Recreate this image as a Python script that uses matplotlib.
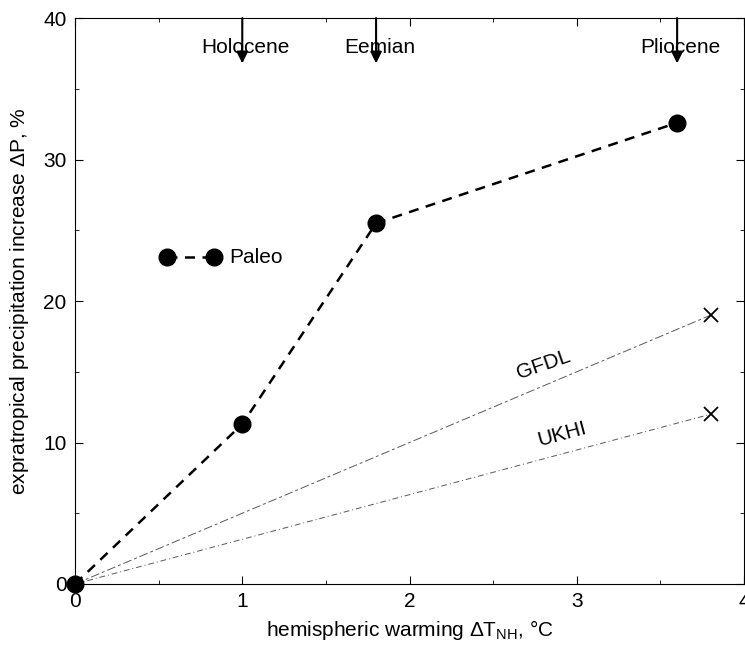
import matplotlib
matplotlib.use('Agg')
import matplotlib.pyplot as plt

plt.rcParams['font.family'] = ['Liberation Sans', 'DejaVu Sans']
plt.rcParams['mathtext.fontset'] = 'custom'
plt.rcParams['mathtext.rm'] = 'Liberation Sans'

# paleo data
paleo_x = [0, 1, 1.8, 3.6]
paleo_y = [0, 11.3, 25.5, 32.6]
periods = ['Holocene', 'Eemian', 'Pliocene']
period_x = [1, 1.8, 3.6]

# model runs (straight from origin)
gfdl_x = [0, 3.8]
gfdl_y = [0, 19]
ukhi_x = [0, 3.8]
ukhi_y = [0, 12]

fs = 15

fig = plt.figure(figsize=(7.45, 6.46), dpi=100)
ax = fig.add_axes([0.1007, 0.096, 0.898, 0.876])

ax.plot(gfdl_x, gfdl_y, color='0.35', lw=0.7, ls=(0, (9, 3, 3, 3)))
ax.plot(ukhi_x, ukhi_y, color='0.35', lw=0.7, ls=(0, (6, 3, 1, 3)))
ax.plot(gfdl_x[-1], gfdl_y[-1], 'kx', ms=10, mew=1.3)
ax.plot(ukhi_x[-1], ukhi_y[-1], 'kx', ms=10, mew=1.3)
ax.plot(paleo_x, paleo_y, 'k--', lw=1.8, dashes=(4, 3), marker='o', ms=12,
        clip_on=False, zorder=5)

ax.text(2.80, 15.5, 'GFDL', rotation=19, ha='center', va='center', fontsize=fs)
ax.text(2.91, 10.6, 'UKHI', rotation=15, ha='center', va='center', fontsize=fs)

# legend drawn by hand
ax.plot([0.55, 0.83], [23.1, 23.1], 'k--', lw=1.8, dashes=(4, 3), marker='o', ms=12)
ax.text(0.92, 23.1, 'Paleo', va='center', fontsize=fs)

for name, px in zip(periods, period_x):
    ax.annotate('', xy=(px, 36.8), xytext=(px, 40),
                arrowprops=dict(arrowstyle='-|>', color='k', lw=1.5,
                                mutation_scale=17, shrinkA=0, shrinkB=0))
    ax.text(px + 0.02, 37.9, name, ha='center', va='center', fontsize=fs)

ax.set_xlim(0, 4)
ax.set_ylim(0, 40)
ax.set_xticks([0, 1, 2, 3, 4])
ax.set_yticks([0, 10, 20, 30, 40])
ax.set_xticks([0.5, 1.5, 2.5, 3.5], minor=True)
ax.set_yticks([5, 15, 25, 35], minor=True)
ax.tick_params(which='both', direction='in', top=True, right=True, labelsize=fs)
ax.tick_params(which='major', length=6, pad=6)
ax.tick_params(which='minor', length=3)
ax.set_xlabel('hemispheric warming $\\Delta$T$_{\\mathrm{NH}}$, °C', fontsize=fs, labelpad=5)
ax.set_ylabel('expratropical precipitation increase $\\Delta$P, %', fontsize=fs, labelpad=9)

fig.savefig('out.png', dpi=100)
